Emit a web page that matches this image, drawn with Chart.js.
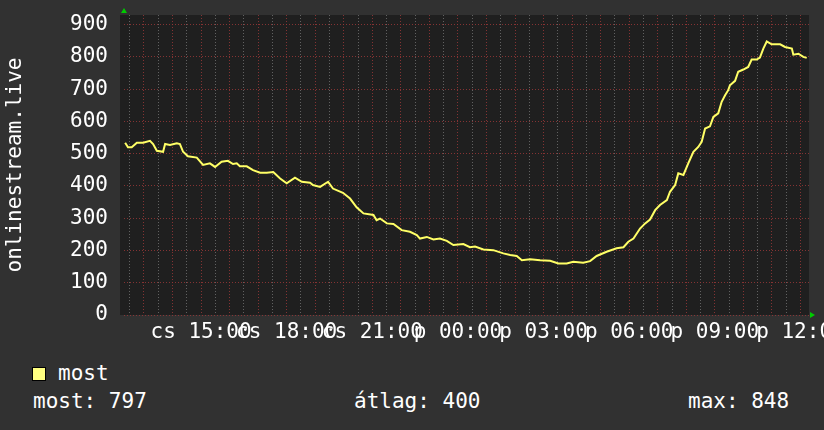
<!DOCTYPE html>
<html>
<head>
<meta charset="utf-8">
<script src="https://cdn.jsdelivr.net/npm/chart.js@4/dist/chart.umd.min.js"></script>
<style>
html, body { margin: 0; padding: 0; background: #313131; }
#wrap { position: relative; width: 824px; height: 430px; overflow: hidden; font-family: "DejaVu Sans Mono", monospace; color: #fff; }
#c { position: absolute; left: 0; top: 0; }
.txt { position: absolute; font-size: 21px; line-height: 21px; white-space: pre; }
.sw { position: absolute; left: 32px; top: 367px; width: 12px; height: 12px; background: #ffff80; border: 1px solid #000; }
</style>
</head>
<body>
<div id="wrap">
  <canvas id="c" width="824" height="350"></canvas>
  <div class="sw"></div>
  <div class="txt" id="lg" style="left:58px; top:363px;"></div>
  <div class="txt" id="st0" style="left:33px; top:391px;"></div>
  <div class="txt" id="st1" style="left:354px; top:391px;"></div>
  <div class="txt" id="st2" style="left:688px; top:391px;"></div>
</div>
<script>
// time axis in clock hours (24 = midnight, 36 = next day noon)
const X_MIN = 12.3, X_MAX = 36.3;
const Y_MAX = 930;

const tickHours = [15, 18, 21, 24, 27, 30, 33, 36];
const tickLabels = ['cs 15:00', 'cs 18:00', 'cs 21:00', 'p 00:00', 'p 03:00', 'p 06:00', 'p 09:00', 'p 12:00'];

const seriesName = 'most';
const statLabels = ['most', 'átlag', 'max'];
const statValues = [797, 400, 848];

const hours = [12.34, 12.44, 12.57, 12.75, 12.97, 13.21, 13.32, 13.45, 13.67, 13.74, 13.91, 14.15, 14.26, 14.37, 14.54, 14.85,
  15.07, 15.31, 15.49, 15.72, 15.94, 16.12, 16.25, 16.36, 16.60, 16.82, 17.07, 17.30, 17.53, 17.77, 18.00, 18.29, 18.53, 18.82,
  18.92, 19.17, 19.45, 19.62, 19.97, 20.22, 20.45, 20.69, 21.04, 21.15, 21.27, 21.51, 21.74, 22.03, 22.32, 22.56, 22.67, 22.91,
  23.14, 23.37, 23.61, 23.84, 24.19, 24.42, 24.60, 24.89, 25.24, 25.59, 25.83, 26.06, 26.24, 26.53, 26.88, 27.23, 27.52, 27.81,
  28.04, 28.39, 28.63, 28.86, 29.21, 29.56, 29.80, 29.97, 30.15, 30.38, 30.56, 30.73, 30.91, 31.08, 31.32, 31.43, 31.61, 31.72,
  31.90, 32.07, 32.25, 32.42, 32.54, 32.66, 32.83, 32.95, 33.12, 33.24, 33.36, 33.47, 33.53, 33.71, 33.82, 34.00, 34.17, 34.29,
  34.47, 34.58, 34.70, 34.82, 34.99, 35.29, 35.46, 35.70, 35.75, 35.93, 36.10, 36.22];
const viewers = [534, 520, 520, 534, 534, 540, 530, 509, 506, 530, 527, 532, 530, 506, 492, 488,
  465, 470, 459, 475, 478, 468, 470, 461, 461, 449, 441, 441, 443, 423, 408, 426, 413, 410,
  403, 397, 413, 392, 379, 361, 334, 315, 310, 294, 299, 284, 282, 263, 258, 248, 237, 242,
  234, 237, 230, 217, 220, 210, 212, 203, 201, 191, 186, 183, 170, 173, 170, 168, 160, 160,
  165, 162, 167, 183, 196, 207, 210, 227, 237, 268, 284, 296, 325, 341, 356, 382, 403, 439,
  434, 470, 506, 521, 537, 578, 585, 614, 625, 661, 681, 697, 712, 726, 754, 761, 769, 792,
  792, 798, 826, 848, 839, 839, 831, 826, 807, 810, 800, 797];

const FONT = { family: '"DejaVu Sans Mono", monospace', size: 21 };
const GRID_MINOR = 'rgba(120,120,120,0.75)';
const GRID_MAJOR = 'rgba(150,55,55,0.85)';

document.getElementById('lg').textContent = seriesName;
statLabels.forEach((l, i) => {
  document.getElementById('st' + i).textContent = l + ': ' + statValues[i];
});

const plotBg = {
  id: 'plotBg',
  beforeDraw(chart) {
    const {ctx, chartArea: a} = chart;
    ctx.save();
    ctx.fillStyle = '#1f1f1f';
    ctx.fillRect(a.left - 4, a.top, a.right - a.left + 4, a.bottom - a.top);
    ctx.restore();
  }
};

const arrows = {
  id: 'arrows',
  afterDraw(chart) {
    const {ctx, chartArea: a} = chart;
    ctx.save();
    ctx.fillStyle = '#00cc00';
    ctx.beginPath();
    ctx.moveTo(a.left - 3, a.top - 2);
    ctx.lineTo(a.left + 3, a.top - 2);
    ctx.lineTo(a.left, a.top - 7);
    ctx.fill();
    ctx.beginPath();
    ctx.moveTo(a.right + 1, a.bottom - 3);
    ctx.lineTo(a.right + 1, a.bottom + 3);
    ctx.lineTo(a.right + 6, a.bottom);
    ctx.fill();
    ctx.restore();
  }
};

new Chart(document.getElementById('c'), {
  type: 'line',
  data: {
    datasets: [{
      label: seriesName,
      data: hours.map((h, i) => ({x: h, y: viewers[i]})),
      borderColor: '#ffff66',
      borderWidth: 2,
      pointRadius: 0,
      tension: 0,
      fill: false
    }]
  },
  options: {
    responsive: false,
    animation: false,
    devicePixelRatio: 1,
    layout: { padding: { top: 15, right: 15, left: 0, bottom: 0 } },
    plugins: { legend: { display: false }, tooltip: { enabled: false } },
    scales: {
      x: {
        type: 'linear',
        min: X_MIN,
        max: X_MAX,
        afterBuildTicks: s => {
          const t = [];
          for (let v = 12.5; v <= 36; v += 0.5) t.push({value: v});
          s.ticks = t;
        },
        afterFit: s => { s.height = 35; s.paddingLeft = 0; s.paddingRight = 0; },
        border: { display: false, dash: [1, 2] },
        grid: {
          drawTicks: false,
          color: c => (c.tick && Number.isInteger(c.tick.value)) ? GRID_MAJOR : GRID_MINOR,
          lineWidth: 1
        },
        ticks: {
          autoSkip: false,
          maxRotation: 0,
          minRotation: 0,
          padding: 5,
          color: '#ffffff',
          font: FONT,
          callback: v => {
            const i = tickHours.indexOf(v);
            return i >= 0 ? tickLabels[i] : '';
          }
        }
      },
      y: {
        min: 0,
        max: Y_MAX,
        afterFit: s => { s.width = 124; s.paddingTop = 0; s.paddingBottom = 0; },
        border: { display: false, dash: [1, 2] },
        grid: {
          drawTicks: false,
          color: c => {
            const v = c.tick ? c.tick.value : 0;
            if (v >= Y_MAX) return 'rgba(0,0,0,0)';
            return v % 100 === 0 ? GRID_MAJOR : GRID_MINOR;
          },
          lineWidth: 1
        },
        ticks: {
          stepSize: 20,
          padding: 16,
          color: '#ffffff',
          font: FONT,
          callback: v => (v % 100 === 0 ? String(v) : '')
        },
        title: {
          display: true,
          text: 'onlinestream.live',
          color: '#ffffff',
          font: FONT,
          padding: { top: 3, bottom: 0 }
        }
      }
    }
  },
  plugins: [plotBg, arrows]
});
</script>
</body>
</html>
